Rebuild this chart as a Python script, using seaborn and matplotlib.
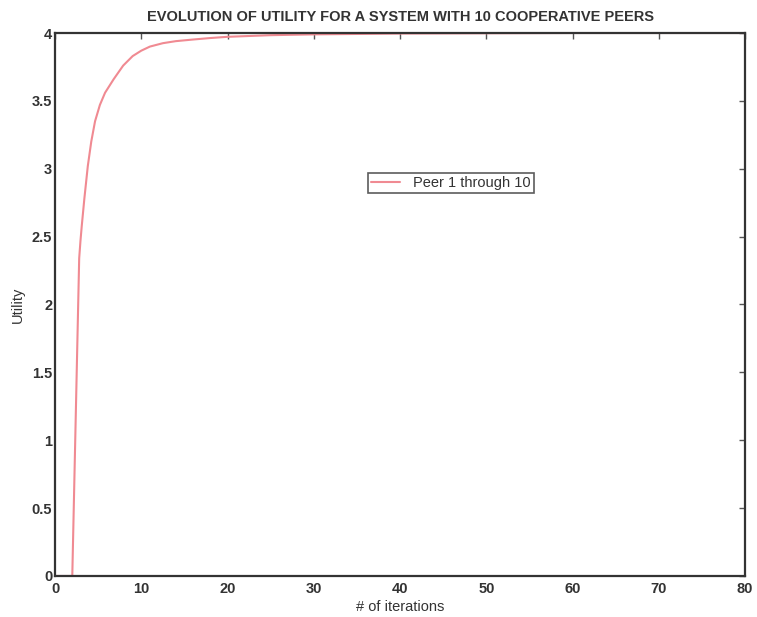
import matplotlib
matplotlib.use("Agg")
import matplotlib.pyplot as plt
import seaborn as sns
import pandas as pd

# Utility of the cooperative peers per iteration
iterations = [0, 1, 2, 2.8, 2.95, 3.1, 3.4, 3.8, 4.2, 4.64, 5.2, 5.8, 6.8, 7.9, 9, 10, 11, 12.5,
              14, 16, 18, 20, 25, 30, 40, 60, 80]
utility = [0, 0, 0, 2.34, 2.47, 2.58, 2.78, 3.02, 3.2, 3.35, 3.47, 3.56, 3.66, 3.76, 3.83, 3.87,
           3.9, 3.925, 3.94, 3.952, 3.963, 3.972, 3.984, 3.99, 3.996, 4.0, 4.0]
series_label = "Peer 1 through 10"
x_ticks = [0, 10, 20, 30, 40, 50, 60, 70, 80]
y_ticks = [0, 0.5, 1, 1.5, 2, 2.5, 3, 3.5, 4]
y_tick_labels = ["0", "0.5", "1", "1.5", "2", "2.5", "3", "3.5", "4"]

sns.set_style("white")
plt.rcParams["font.family"] = ["Liberation Sans", "DejaVu Sans"]

df = pd.DataFrame({"iter": iterations, "utility": utility, "series": series_label})

fig = plt.figure(figsize=(7.57, 6.17), dpi=100)
ax = fig.add_axes([0.0727, 0.0665, 0.9115, 0.88])

sns.lineplot(data=df, x="iter", y="utility", hue="series", palette=["#f08a92"],
             linewidth=1.5, ax=ax)

ax.set_xlim(0, 80)
ax.set_ylim(0, 4)
ax.set_xticks(x_ticks)
ax.set_xticklabels([str(t) for t in x_ticks])
ax.set_yticks(y_ticks)
ax.set_yticklabels(y_tick_labels)

for side in ["top", "right", "bottom", "left"]:
    ax.spines[side].set_visible(True)
    ax.spines[side].set_color("#333333")
    ax.spines[side].set_linewidth(1.6)

ax.tick_params(axis="both", direction="in", length=4, width=1, color="#555555",
               top=True, right=True, labelsize=10.5, labelcolor="#333333")
ax.tick_params(axis="x", pad=4)
ax.tick_params(axis="y", pad=2)
for lab in ax.get_xticklabels() + ax.get_yticklabels():
    lab.set_fontweight("bold")

ax.set_xlabel("# of iterations", fontsize=10.5, color="#333333", labelpad=3)
ax.set_ylabel("Utility", fontsize=10.5, color="#333333", labelpad=5)
ax.set_title("EVOLUTION OF UTILITY FOR A SYSTEM WITH 10 COOPERATIVE PEERS",
             fontsize=10.5, fontweight="bold", color="#333333", pad=9)

leg = ax.legend(loc="center", bbox_to_anchor=(0.574, 0.724), frameon=True, fancybox=False,
                fontsize=10.5, handlelength=2.0, borderpad=0.2, handletextpad=0.9,
                borderaxespad=0)
leg.get_frame().set_edgecolor("#333333")
leg.get_frame().set_linewidth(1.2)
for t in leg.get_texts():
    t.set_color("#333333")

fig.savefig("out.png", dpi=100)
